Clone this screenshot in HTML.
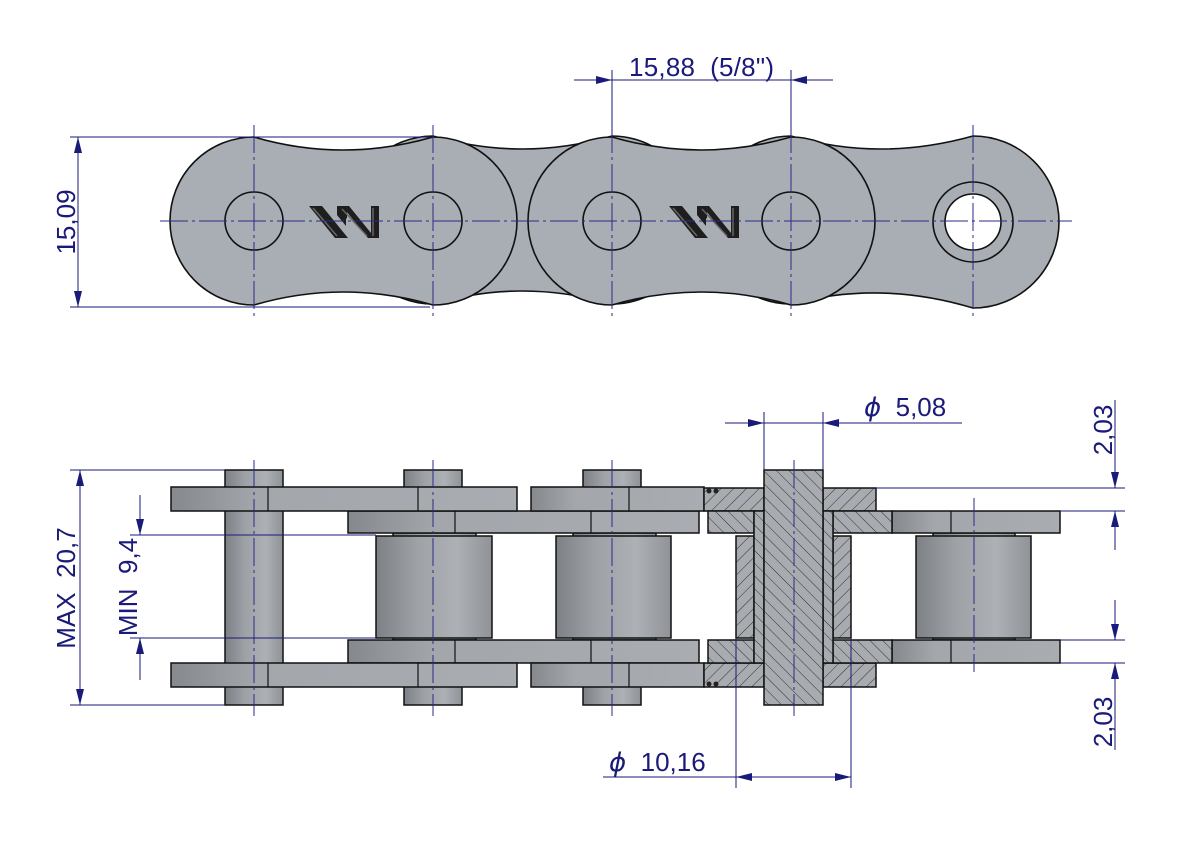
<!DOCTYPE html>
<html><head><meta charset="utf-8"><style>
html,body{margin:0;padding:0;background:#fff;}
svg{display:block;}
text{font-family:"Liberation Sans",sans-serif;fill:#1a1a78;white-space:pre;}
</style></head><body>
<svg width="1191" height="842" viewBox="0 0 1191 842" xmlns="http://www.w3.org/2000/svg" xml:space="preserve">
<defs>
<linearGradient id="g" x1="0" x2="1" y1="0" y2="0">
<stop offset="0" stop-color="#7d8186"/><stop offset="0.35" stop-color="#9ea2a7"/><stop offset="0.7" stop-color="#adb1b6"/><stop offset="1" stop-color="#8f9398"/>
</linearGradient>
<linearGradient id="gp" x1="0" x2="1" y1="0" y2="0">
<stop offset="0" stop-color="#85898e"/><stop offset="0.25" stop-color="#a3a7ac"/><stop offset="1" stop-color="#a9adb2"/>
</linearGradient>
<pattern id="h1" patternUnits="userSpaceOnUse" width="9" height="9" patternTransform="rotate(45)">
<rect width="9" height="9" fill="#a8acb1"/><line x1="0" y1="0" x2="0" y2="9" stroke="#222" stroke-width="0.9"/>
</pattern>
<pattern id="h2" patternUnits="userSpaceOnUse" width="9" height="9" patternTransform="rotate(-45)">
<rect width="9" height="9" fill="#a8acb1"/><line x1="0" y1="0" x2="0" y2="9" stroke="#222" stroke-width="0.9"/>
</pattern>
<marker id="a" viewBox="0 0 16 8" refX="16" refY="4" markerWidth="16" markerHeight="8" markerUnits="userSpaceOnUse" orient="auto-start-reverse">
<path d="M0,0 L16,4 L0,8 Z" fill="#1a1a78"/>
</marker>
<g id="logo">
<path d="M0,0 L13,0 L39,32 L26,32 Z" fill="#1e1e1e"/>
<path d="M28,0 L38,0 L38,13 L28,0 Z" fill="#1e1e1e"/>
<path d="M28,0 L40,0 L62,27 L62,0 L70,0 L70,32 L59,32 L37,5 L37,20 L28,9 Z" fill="#1e1e1e"/>
<path d="M4,2 L28,30 M64,2 L64,30 M33,3 L58,30" stroke="#666" stroke-width="1.5" fill="none"/>
</g>
</defs>

<g stroke="#111" stroke-width="1.6" fill="#a9aeb4">
<path d="M433,136 Q522,162 612,136 A84,84 0 0 1 612,304 Q522,278 433,304 A84,84 0 0 1 433,136 Z"/>
<path d="M791,136 Q880,162 973,136 A86,86 0 0 1 973,308 Q880,280 791,304 A84,84 0 0 1 791,136 Z"/>
<path d="M254,137 Q343,163 433,137 A84,84 0 0 1 433,305 Q343,279 254,305 A84,84 0 0 1 254,137 Z"/>
<path d="M612,137 Q701,163 791,137 A84,84 0 0 1 791,305 Q701,279 612,305 A84,84 0 0 1 612,137 Z"/>
<circle cx="254" cy="221" r="29" fill="none"/>
<circle cx="433" cy="221" r="29" fill="none"/>
<circle cx="612" cy="221" r="29" fill="none"/>
<circle cx="791" cy="221" r="29" fill="none"/>
<circle cx="973" cy="222" r="40"/>
<circle cx="973" cy="222" r="28" fill="#fff"/>
</g>
<use href="#logo" x="309" y="206"/>
<use href="#logo" x="669" y="206"/>
<g stroke="#2a2a88" stroke-width="1" stroke-dasharray="28,4,3,4" fill="none">
<line x1="160" y1="221" x2="1072" y2="221"/>
<line x1="254" y1="125" x2="254" y2="318"/>
<line x1="433" y1="125" x2="433" y2="318"/>
<line x1="612" y1="125" x2="612" y2="318"/>
<line x1="791" y1="125" x2="791" y2="318"/>
<line x1="973" y1="125" x2="973" y2="318"/>
</g>

<g stroke="#1a1a78" stroke-width="1" fill="none">
<line x1="612" y1="70" x2="612" y2="135"/>
<line x1="791" y1="70" x2="791" y2="135"/>
<line x1="574" y1="80" x2="612" y2="80" marker-end="url(#a)"/>
<line x1="612" y1="80" x2="791" y2="80"/>
<line x1="833" y1="80" x2="791" y2="80" marker-end="url(#a)"/>
<line x1="70" y1="137" x2="430" y2="137"/>
<line x1="70" y1="307" x2="430" y2="307"/>
<line x1="78" y1="137" x2="78" y2="307" marker-start="url(#a)" marker-end="url(#a)"/>
</g>
<text x="629" y="76" font-size="26" textLength="145">15,88  (5/8")</text>
<text transform="translate(75,222) rotate(-90)" font-size="26" text-anchor="middle">15,09</text>

<g stroke="#111" stroke-width="1.5" fill="url(#g)">
<rect x="225" y="470" width="58" height="235"/>
<rect x="404" y="470" width="58" height="235"/>
<rect x="583" y="470" width="58" height="235"/>
<rect x="393" y="533" width="83" height="107"/>
<rect x="573" y="533" width="83" height="107"/>
<rect x="933" y="533" width="82" height="107"/>
<rect x="376" y="536" width="116" height="102"/>
<rect x="556" y="536" width="115" height="102"/>
<rect x="916" y="536" width="115" height="102"/>
<rect x="348" y="511" width="351" height="22" fill="url(#gp)"/>
<rect x="348" y="640" width="351" height="23" fill="url(#gp)"/>
<rect x="892" y="511" width="168" height="22" fill="url(#gp)"/>
<rect x="892" y="640" width="168" height="23" fill="url(#gp)"/>
<rect x="171" y="487" width="346" height="24" fill="url(#gp)"/>
<rect x="171" y="663" width="346" height="24" fill="url(#gp)"/>
<rect x="531" y="487" width="173" height="24" fill="url(#gp)"/>
<rect x="531" y="663" width="173" height="24" fill="url(#gp)"/>
</g>
<g stroke="#111" stroke-width="1.2">
<line x1="268" y1="487" x2="268" y2="511"/><line x1="268" y1="663" x2="268" y2="687"/>
<line x1="418" y1="487" x2="418" y2="511"/><line x1="418" y1="663" x2="418" y2="687"/>
<line x1="629" y1="487" x2="629" y2="511"/><line x1="629" y1="663" x2="629" y2="687"/>
<line x1="455" y1="511" x2="455" y2="533"/><line x1="455" y1="640" x2="455" y2="663"/>
<line x1="591" y1="511" x2="591" y2="533"/><line x1="591" y1="640" x2="591" y2="663"/>
<line x1="951" y1="511" x2="951" y2="533"/><line x1="951" y1="640" x2="951" y2="663"/>
</g>
<g stroke="#111" stroke-width="1.5">
<rect x="704" y="488" width="60" height="23" fill="url(#h1)"/>
<rect x="823" y="488" width="53" height="23" fill="url(#h1)"/>
<rect x="704" y="663" width="60" height="24" fill="url(#h1)"/>
<rect x="823" y="663" width="53" height="24" fill="url(#h1)"/>
<rect x="708" y="511" width="46" height="22" fill="url(#h2)"/>
<rect x="833" y="511" width="59" height="22" fill="url(#h2)"/>
<rect x="708" y="640" width="46" height="23" fill="url(#h2)"/>
<rect x="833" y="640" width="59" height="23" fill="url(#h2)"/>
<rect x="736" y="536" width="18" height="102" fill="url(#h1)"/>
<rect x="833" y="536" width="18" height="102" fill="url(#h1)"/>
<rect x="754" y="511" width="10" height="152" fill="url(#h2)"/>
<rect x="823" y="511" width="10" height="152" fill="url(#h2)"/>
<rect x="764" y="470" width="59" height="235" fill="url(#h2)"/>
</g>
<g fill="#222">
<circle cx="709" cy="491" r="2.5"/><circle cx="716" cy="491" r="2.5"/>
<circle cx="709" cy="684" r="2.5"/><circle cx="716" cy="684" r="2.5"/>
</g>
<g stroke="#2a2a88" stroke-width="1" stroke-dasharray="28,4,3,4" fill="none">
<line x1="254" y1="460" x2="254" y2="716"/>
<line x1="433" y1="460" x2="433" y2="716"/>
<line x1="612" y1="460" x2="612" y2="716"/>
<line x1="794" y1="460" x2="794" y2="716"/>
<line x1="974" y1="498" x2="974" y2="672"/>
</g>

<g stroke="#1a1a78" stroke-width="1" fill="none">
<line x1="70" y1="470" x2="225" y2="470"/>
<line x1="70" y1="705" x2="225" y2="705"/>
<line x1="80" y1="470" x2="80" y2="705" marker-start="url(#a)" marker-end="url(#a)"/>
<line x1="130" y1="535" x2="376" y2="535"/>
<line x1="130" y1="638" x2="376" y2="638"/>
<line x1="140" y1="495" x2="140" y2="535" marker-end="url(#a)"/>
<line x1="140" y1="680" x2="140" y2="638" marker-end="url(#a)"/>
<line x1="764" y1="412" x2="764" y2="470"/>
<line x1="823" y1="412" x2="823" y2="470"/>
<line x1="725" y1="423" x2="764" y2="423" marker-end="url(#a)"/>
<line x1="962" y1="423" x2="823" y2="423" marker-end="url(#a)"/>
<line x1="764" y1="423" x2="823" y2="423"/>
<line x1="736" y1="638" x2="736" y2="788"/>
<line x1="851" y1="638" x2="851" y2="788"/>
<line x1="603" y1="777" x2="736" y2="777"/>
<line x1="736" y1="777" x2="851" y2="777" marker-start="url(#a)" marker-end="url(#a)"/>
<line x1="876" y1="488" x2="1125" y2="488"/>
<line x1="1060" y1="511" x2="1125" y2="511"/>
<line x1="1060" y1="640" x2="1125" y2="640"/>
<line x1="1060" y1="663" x2="1125" y2="663"/>
<line x1="1115" y1="400" x2="1115" y2="488" marker-end="url(#a)"/>
<line x1="1115" y1="550" x2="1115" y2="511" marker-end="url(#a)"/>
<line x1="1115" y1="600" x2="1115" y2="640" marker-end="url(#a)"/>
<line x1="1115" y1="750" x2="1115" y2="663" marker-end="url(#a)"/>
</g>
<text transform="translate(75,588) rotate(-90)" font-size="26" text-anchor="middle">MAX  20,7</text>
<text transform="translate(137,587) rotate(-90)" font-size="26" text-anchor="middle">MIN  9,4</text>
<text x="864" y="416" font-size="26"><tspan font-style="italic" font-family="DejaVu Sans">ϕ</tspan>  5,08</text>
<text x="609" y="771" font-size="26"><tspan font-style="italic" font-family="DejaVu Sans">ϕ</tspan>  10,16</text>
<text transform="translate(1112,430) rotate(-90)" font-size="26" text-anchor="middle">2,03</text>
<text transform="translate(1112,722) rotate(-90)" font-size="26" text-anchor="middle">2,03</text>
</svg>
</body></html>
